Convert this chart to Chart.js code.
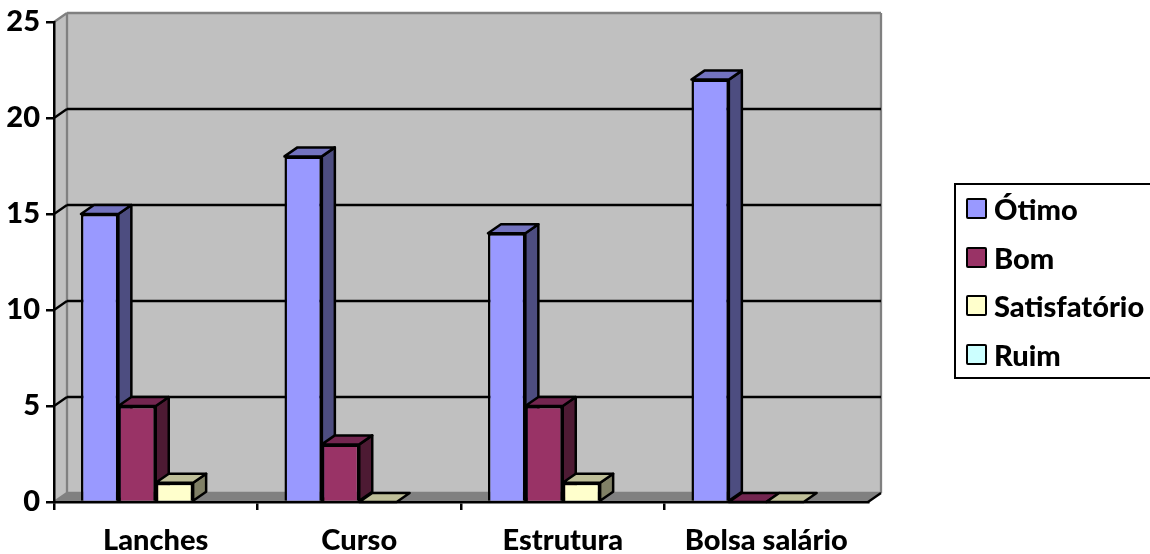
<!DOCTYPE html>
<html lang="pt">

<head>
    <meta charset="UTF-8">
    <title>Avaliação</title>
    <script src="https://cdn.jsdelivr.net/npm/chart.js"></script>
    <style>
        html, body { margin: 0; padding: 0; background: #fff; }
        #wrap { position: relative; width: 1150px; height: 554px; overflow: hidden; }
        canvas { position: absolute; left: 0; top: 0; }
        #legend {
            position: absolute; left: 954px; top: 183px; width: 220px; height: 192px;
            border: 2px solid #000; box-sizing: content-box;
            font: 900 29px Lato, sans-serif; color: #000;
        }
        .item { position: absolute; left: 10px; height: 21px; line-height: 21px; white-space: nowrap; }
        .swatch {
            display: inline-block; box-sizing: border-box; width: 21px; height: 21px;
            border: 2.5px solid #000; border-radius: 2px; vertical-align: top; margin-right: 7px;
        }
    </style>
</head>

<body>
    <div id="wrap">
        <canvas id="chart" width="1150" height="554"></canvas>
        <div id="legend"></div>
    </div>

    <script>
        const categories = ['Lanches', 'Curso', 'Estrutura', 'Bolsa salário'];
        const seriesNames = ['Ótimo', 'Bom', 'Satisfatório', 'Ruim'];
        const otimo = [15, 18, 14, 22];
        const bom = [5, 3, 5, 0];
        const satisfatorio = [1, 0, 1, 0];
        const ruim = [null, null, null, null]; // no bar visible for this one
        const yTicks = [0, 5, 10, 15, 20, 25];

        const frontColors = ['#9999FF', '#993366', '#FFFFCC', '#CCFFFF'];
        const topColors = ['#7373BF', '#732650', '#BFBF99', '#99BFBF'];
        const sideColors = ['#4D4D80', '#4D1A33', '#808066', '#668080'];

        const depthX = 13, depthY = 9;
        const font = { family: 'Lato', weight: '900', size: 29 };

        function poly(ctx, pts, fill, stroke, width) {
            ctx.beginPath();
            pts.forEach((p, i) => i ? ctx.lineTo(p[0], p[1]) : ctx.moveTo(p[0], p[1]));
            ctx.closePath();
            ctx.fillStyle = fill;
            ctx.fill();
            if (stroke) {
                ctx.strokeStyle = stroke;
                ctx.lineWidth = width;
                ctx.lineJoin = 'round';
                ctx.stroke();
            }
        }

        function line(ctx, x1, y1, x2, y2, color) {
            ctx.beginPath();
            ctx.moveTo(x1, y1);
            ctx.lineTo(x2, y2);
            ctx.strokeStyle = color;
            ctx.lineWidth = 2.3;
            ctx.stroke();
        }

        // grey back wall, side wall and floor behind the bars
        const wallPlugin = {
            id: 'wall',
            beforeDraw(chart) {
                const ctx = chart.ctx;
                const { left, right, top, bottom } = chart.chartArea;
                const y = chart.scales.y;
                ctx.save();
                poly(ctx, [[left, top], [left + depthX, top - depthY], [left + depthX, bottom - depthY], [left, bottom]], '#C0C0C0');
                poly(ctx, [[left + depthX, top - depthY], [right + depthX, top - depthY], [right + depthX, bottom - depthY], [left + depthX, bottom - depthY]], '#C0C0C0');
                poly(ctx, [[left, bottom], [left + depthX, bottom - depthY], [right + depthX, bottom - depthY], [right, bottom]], '#808080');
                line(ctx, left, top, left + depthX, top - depthY, '#808080');
                line(ctx, left + depthX, top - depthY, right + depthX, top - depthY, '#808080');
                line(ctx, left + depthX, top - depthY, left + depthX, bottom - depthY, '#808080');
                line(ctx, right + depthX, top - depthY, right + depthX, bottom - depthY, '#808080');
                line(ctx, left + depthX, bottom - depthY, right + depthX, bottom - depthY, '#808080');
                line(ctx, right, bottom, right + depthX, bottom - depthY, '#000');
                line(ctx, left, bottom, left + depthX, bottom - depthY, '#808080');
                yTicks.slice(1, -1).forEach(v => {
                    const py = y.getPixelForValue(v);
                    line(ctx, left, py, left + depthX, py - depthY, '#000');
                    line(ctx, left + depthX, py - depthY, right + depthX, py - depthY, '#000');
                });
                ctx.restore();
            }
        };

        // top and side faces, the library draws the front face over them
        const barSidesPlugin = {
            id: 'barSides',
            beforeDatasetsDraw(chart) {
                const ctx = chart.ctx;
                ctx.save();
                categories.forEach((c, i) => {
                    chart.data.datasets.forEach((ds, d) => {
                        if (ds.data[i] === null) return;
                        const bar = chart.getDatasetMeta(d).data[i];
                        const x1 = bar.x - bar.width / 2, x2 = bar.x + bar.width / 2;
                        const yt = bar.y, yb = bar.base;
                        if (yb > yt) {
                            poly(ctx, [[x2, yt], [x2 + depthX, yt - depthY], [x2 + depthX, yb - depthY], [x2, yb]], sideColors[d], '#000', 2.5);
                        }
                        poly(ctx, [[x1, yt], [x1 + depthX, yt - depthY], [x2 + depthX, yt - depthY], [x2, yt]], topColors[d], '#000', 2.5);
                    });
                });
                ctx.restore();
            }
        };

        const seriesValues = [otimo, bom, satisfatorio, ruim];

        new Chart(document.getElementById('chart'), {
            type: 'bar',
            data: {
                labels: categories,
                datasets: seriesNames.map((name, i) => ({
                    label: name,
                    data: seriesValues[i],
                    backgroundColor: frontColors[i],
                    borderColor: '#000',
                    borderWidth: 2.5,
                    categoryPercentage: 0.735,
                    barPercentage: 1
                }))
            },
            options: {
                responsive: false,
                animation: false,
                layout: { padding: { left: 0, top: 22, right: 282, bottom: 0 } },
                plugins: { legend: { display: false }, tooltip: { enabled: false } },
                scales: {
                    x: {
                        afterFit: s => { s.height = 52; s.paddingLeft = 0; s.paddingRight = 0; },
                        border: { color: '#000', width: 2.5 },
                        grid: {
                            drawOnChartArea: false,
                            tickLength: 8,
                            lineWidth: 2.5,
                            tickColor: c => c.tick ? '#000' : 'transparent'
                        },
                        ticks: { color: '#000', font: font, padding: 13, maxRotation: 0 }
                    },
                    y: {
                        min: 0,
                        max: 25,
                        afterFit: s => { s.width = 54; s.paddingTop = 0; s.paddingBottom = 0; },
                        afterBuildTicks: s => { s.ticks = yTicks.map(v => ({ value: v })); },
                        border: { color: '#000', width: 2.5 },
                        grid: { drawOnChartArea: false, tickLength: 8, lineWidth: 2.5, tickColor: '#000' },
                        ticks: { color: '#000', font: font, padding: 6 }
                    }
                }
            },
            plugins: [wallPlugin, barSidesPlugin]
        });

        // legend, built from the same names and colours
        const legend = document.getElementById('legend');
        seriesNames.forEach((name, i) => {
            const item = document.createElement('div');
            item.className = 'item';
            item.style.top = (13 + i * 48.6) + 'px';
            const swatch = document.createElement('span');
            swatch.className = 'swatch';
            swatch.style.background = frontColors[i];
            item.appendChild(swatch);
            item.appendChild(document.createTextNode(name));
            legend.appendChild(item);
        });
    </script>
</body>

</html>
